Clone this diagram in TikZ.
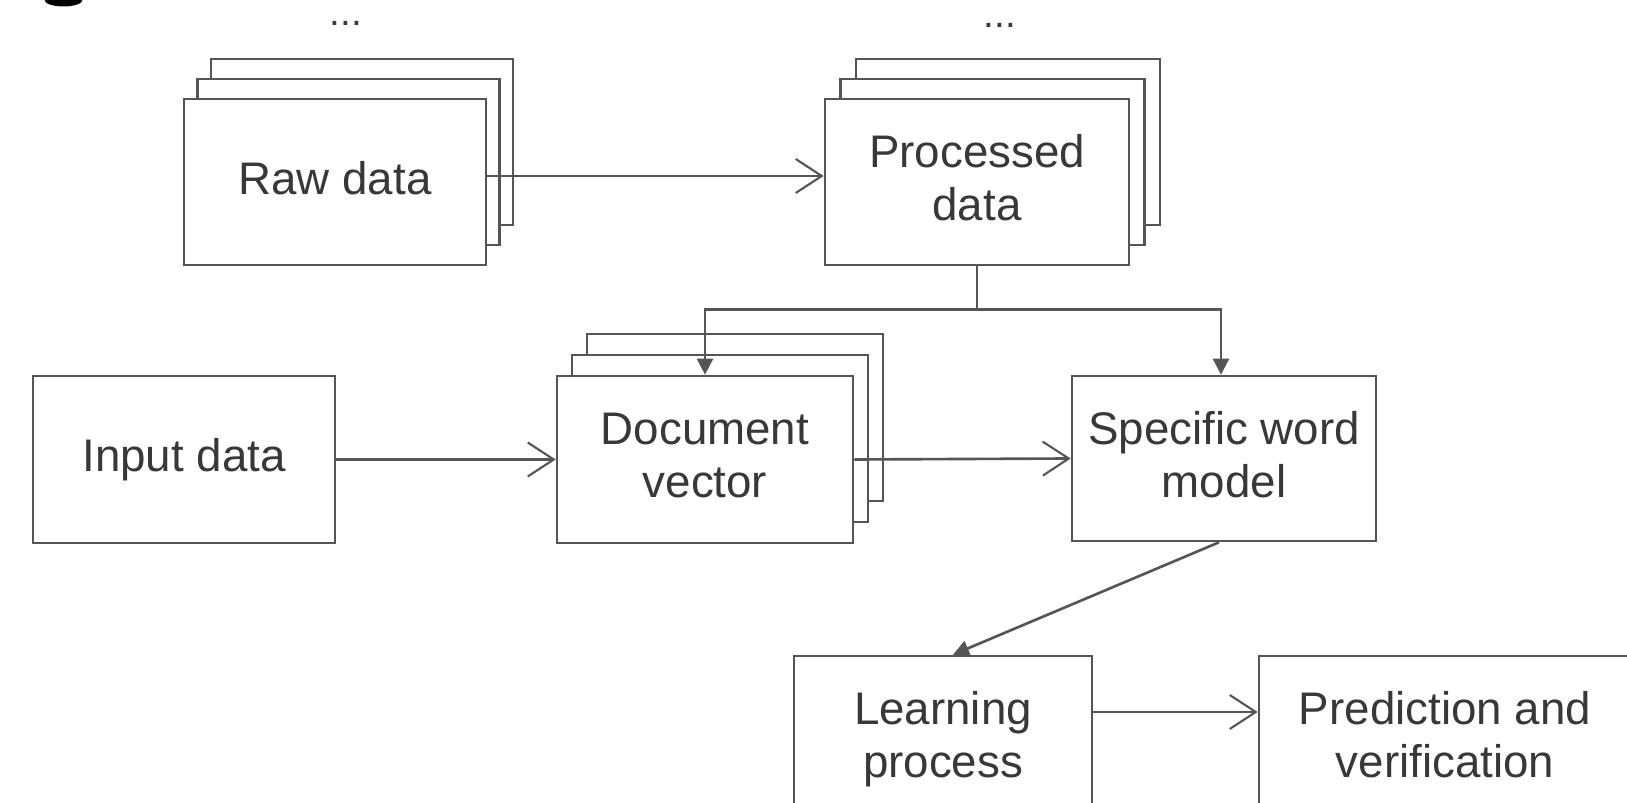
\documentclass[tikz,border=0pt]{standalone}
\usepackage{fontspec}
\setmainfont{Liberation Sans}
\usetikzlibrary{arrows.meta}
\definecolor{ln}{HTML}{555555}
\definecolor{tx}{HTML}{383838}
\begin{document}
\begin{tikzpicture}[x=1cm,y=1cm,
  box/.style={draw=ln, line width=0.75pt, fill=white, text=tx, align=center,
    font=\fontsize{13}{15}\selectfont, inner sep=0pt, text depth=2.5pt},
  conn/.style={draw=ln, line width=0.75pt},
  openhead/.style={-{Straight Barb[length=2.6mm,width=3.4mm,line width=0.6pt]}},
  fillhead/.style={-{Triangle[length=1.6mm,width=1.6mm]}},
  dots/.style={text=tx, font=\fontsize{11}{12}\selectfont, inner sep=0pt}]
\useasboundingbox (0,0) rectangle (16.27,-8.03);
\clip (0,0) rectangle (16.27,-8.03);
\fill[white] (0,0) rectangle (16.27,-8.03);
\fill[black] (0.635,0) ellipse (0.19 and 0.065);

% Raw data stack
\node[box, minimum width=3.02cm, minimum height=1.66cm] (raw3) at (3.62,-1.42) {};
\node[box, minimum width=3.02cm, minimum height=1.66cm] (raw2) at (3.485,-1.62) {};
\node[box, minimum width=3.02cm, minimum height=1.66cm] (raw) at (3.35,-1.82) {Raw data};
\node[dots, anchor=base] (d1) at (3.46,-0.26) {...};

% Processed data stack
\node[box, minimum width=3.04cm, minimum height=1.66cm] (proc3) at (10.08,-1.42) {};
\node[box, minimum width=3.04cm, minimum height=1.66cm] (proc2) at (9.925,-1.62) {};
\node[box, minimum width=3.04cm, minimum height=1.66cm] (proc) at (9.77,-1.82) {Processed\\data};
\node[dots, anchor=base] (d2) at (10.00,-0.28) {...};

% Input data
\node[box, minimum width=3.02cm, minimum height=1.67cm] (inp) at (1.84,-4.595) {Input data};

% Document vector stack
\node[box, minimum width=2.96cm, minimum height=1.67cm] (doc3) at (7.35,-4.175) {};
\node[box, minimum width=2.96cm, minimum height=1.67cm] (doc2) at (7.20,-4.385) {};
\node[box, minimum width=2.96cm, minimum height=1.67cm] (doc) at (7.05,-4.595) {Document\\vector};

% Specific word model
\node[box, minimum width=3.04cm, minimum height=1.65cm] (spec) at (12.24,-4.585) {Specific word\\model};

% Learning process
\node[box, minimum width=2.98cm, minimum height=1.66cm] (learn) at (9.43,-7.39) {Learning\\process};

% Prediction and verification
\node[box, minimum width=3.72cm, minimum height=1.66cm] (pred) at (14.45,-7.39) {Prediction and\\verification};

% Connectors
\draw[conn, openhead] ([yshift=0.6mm]raw.east) -- ([yshift=0.6mm]proc.west);
\draw[conn, openhead] (inp.east) -- (doc.west);
\draw[conn, openhead] (doc.east) -- (spec.west);
\draw[conn] (proc.south) -- ++(0,-0.43) coordinate (split);
\draw[conn, fillhead] (split) -| (doc.north);
\draw[conn, fillhead] (split) -| ([xshift=-0.3mm]spec.north);
\draw[conn, fillhead] ([xshift=-0.5mm]spec.south) -- ([xshift=1mm]learn.north);
\draw[conn, openhead] ([yshift=2.7mm]learn.east) -- ([yshift=2.7mm]pred.west);
\end{tikzpicture}
\end{document}
